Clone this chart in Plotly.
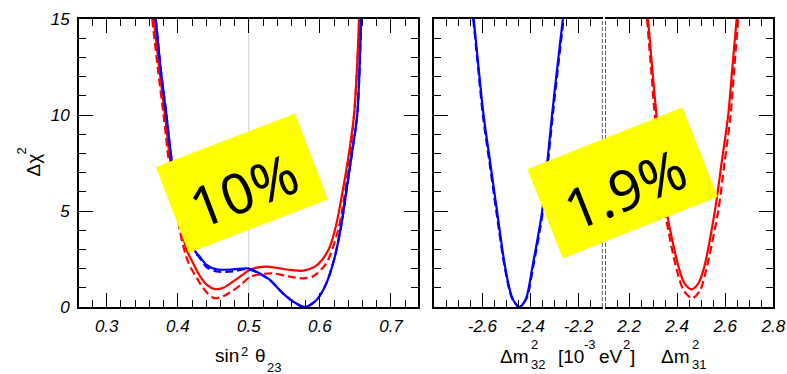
import numpy as np
import plotly.graph_objects as go

W, H = 787, 374

# ---- sin^2(theta23) scan (left panel) ----
th_red_solid_x = [0.3660, 0.3740, 0.3820, 0.3890, 0.3950, 0.4010, 0.4067, 0.4123, 0.4193, 0.4310,
                  0.4410, 0.4520, 0.4650, 0.4780, 0.4900, 0.5010, 0.5130, 0.5250, 0.5400, 0.5580,
                  0.5765, 0.5930, 0.6040, 0.6140, 0.6230, 0.6306, 0.6400, 0.6480, 0.6520, 0.6550]
th_red_solid_y = [15.0, 12.4, 10.0, 7.7, 6.1, 4.9, 3.84, 2.97, 2.45, 1.62,
                  1.15, 0.93, 1.02, 1.33, 1.65, 1.93, 2.06, 2.10, 2.03, 1.93,
                  1.89, 2.10, 2.50, 3.14, 4.30, 5.74, 7.80, 10.0, 12.3, 15.0]

th_red_dash_x = [0.3640, 0.3720, 0.3800, 0.3870, 0.3930, 0.3990, 0.4029, 0.4075, 0.4150, 0.4310,
                 0.4410, 0.4520, 0.4650, 0.4780, 0.4900, 0.5010, 0.5150, 0.5340, 0.5550, 0.5766,
                 0.5905, 0.6090, 0.6257, 0.6320, 0.6410, 0.6480, 0.6525, 0.6560]
th_red_dash_y = [15.0, 12.4, 10.0, 7.7, 6.1, 4.9, 4.0, 3.2, 2.3, 1.25,
                 0.75, 0.46, 0.58, 0.86, 1.20, 1.55, 1.70, 1.75, 1.60, 1.49,
                 1.60, 2.28, 4.00, 5.2, 7.5, 10.0, 12.5, 15.0]

th_blue_x = [0.3690, 0.3760, 0.3840, 0.3912, 0.3990, 0.4070, 0.4150, 0.4264, 0.4310, 0.4404,
             0.4545, 0.4780, 0.4990, 0.5155, 0.5296, 0.5480, 0.5624, 0.5790, 0.5953, 0.6090,
             0.6210, 0.6305, 0.6375, 0.6450, 0.6525, 0.6580]
th_blue_solid_y = [15.0, 12.4, 10.0, 7.7, 6.0, 4.6, 3.6, 2.8, 2.62, 2.19,
                   1.96, 1.96, 2.01, 1.75, 1.41, 0.71, 0.28, 0.0, 0.36, 1.23,
                   2.62, 4.36, 6.1, 8.0, 10.0, 15.0]
th_blue_dash_y = [15.0, 12.4, 10.0, 7.7, 6.0, 4.6, 3.6, 2.75, 2.55, 2.08,
                  1.85, 1.86, 1.97, 1.73, 1.40, 0.71, 0.28, 0.0, 0.36, 1.23,
                  2.62, 4.36, 6.1, 8.0, 10.0, 15.0]

# ---- Delta m^2_32 scan (inverted ordering) ----
m32_solid_x = [-2.636, -2.616, -2.595, -2.567, -2.539, -2.504, -2.475, -2.446, -2.418, -2.393,
               -2.351, -2.330, -2.310, -2.288, -2.265]
m32_dash_x = [-2.638, -2.618, -2.598, -2.570, -2.542, -2.506, -2.476, -2.446, -2.416, -2.390,
              -2.348, -2.327, -2.307, -2.285, -2.262]
m32_y = [15.0, 12.5, 10.0, 7.5, 5.0, 2.0, 0.45, 0.0, 0.45, 2.0, 5.0, 7.5, 10.0, 12.5, 15.0]

# ---- Delta m^2_31 scan (normal ordering) ----
m31_solid_x = [2.279, 2.296, 2.314, 2.334, 2.356, 2.408, 2.432, 2.460, 2.487, 2.511,
               2.557, 2.585, 2.6125, 2.630, 2.6475]
m31_solid_y = [15.0, 12.5, 10.0, 7.5, 5.0, 2.0, 1.2, 0.92, 1.2, 2.0, 5.0, 7.5, 10.0, 12.5, 15.0]
m31_dash_x = [2.275, 2.291, 2.307, 2.328, 2.349, 2.397, 2.428, 2.463, 2.495, 2.522,
              2.571, 2.597, 2.6225, 2.638, 2.654]
m31_dash_y = [15.0, 12.5, 10.0, 7.5, 5.0, 2.0, 0.85, 0.45, 0.85, 2.0, 5.0, 7.5, 10.0, 12.5, 15.0]

# tick labels
th_ticks = [0.3, 0.4, 0.5, 0.6, 0.7]
m32_ticks = [-2.6, -2.4, -2.2]
m31_ticks = [2.2, 2.4, 2.6, 2.8]
chi_ticks = [0, 5, 10, 15]

RED, BLUE = "#ff0000", "#0000ff"
DASH = "8px,4px"
LW = 2.2


def px(x, y):
    return x / W, 1 - y / H


fig = go.Figure()


def curve(x, y, color, dash, xa, ya):
    fig.add_trace(go.Scatter(x=x, y=y, mode="lines", xaxis=xa, yaxis=ya,
                             line=dict(color=color, width=LW, dash=dash, shape="spline", smoothing=0.8),
                             showlegend=False, hoverinfo="skip"))


curve(th_red_dash_x, th_red_dash_y, RED, DASH, "x", "y")
curve(th_red_solid_x, th_red_solid_y, RED, "solid", "x", "y")
curve(th_blue_x, th_blue_dash_y, BLUE, DASH, "x", "y")
curve(th_blue_x, th_blue_solid_y, BLUE, "solid", "x", "y")

curve(m32_dash_x, m32_y, BLUE, DASH, "x2", "y2")
curve(m32_solid_x, m32_y, BLUE, "solid", "x2", "y2")

curve(m31_dash_x, m31_dash_y, RED, DASH, "x3", "y3")
curve(m31_solid_x, m31_solid_y, RED, "solid", "x3", "y3")

# geometry of the frames (pixels)
Y_TOP, Y_BOT = 19, 307
ydom = [1 - Y_BOT / H, 1 - Y_TOP / H]

tickfont = dict(family="Liberation Sans", size=17, color="black", style="italic")

common = dict(showline=True, linewidth=2, linecolor="black", ticks="inside", ticklen=14,
              tickwidth=1.3, tickcolor="black", showgrid=False, zeroline=False,
              tickfont=tickfont, automargin=False)


def minor(d):
    return dict(dtick=d, ticks="inside", ticklen=7, tickwidth=1.3, tickcolor="black", showgrid=False)


fig.update_layout(
    width=W, height=H, margin=dict(l=0, r=0, t=0, b=0, pad=0), autosize=False,
    paper_bgcolor="white", plot_bgcolor="white", showlegend=False,
    xaxis=dict(domain=[79 / W, 418 / W], range=[0.261, 0.738], anchor="y",
               tickvals=th_ticks, ticktext=[f"{v:.1f}" for v in th_ticks],
               mirror="ticks", minor=dict(tick0=0, **minor(0.02)), ticklabelstandoff=3, **common),
    yaxis=dict(domain=ydom, range=[0, 15], anchor="x", tickvals=chi_ticks,
               ticktext=[str(v) for v in chi_ticks], mirror="ticks", minor=minor(1),
               ticklabelstandoff=4, **common),
    xaxis2=dict(domain=[434.3 / W, 602.5 / W], range=[-2.8, -2.1], anchor="y2",
                tickvals=m32_ticks, ticktext=[f"{v:.1f}" for v in m32_ticks],
                mirror="ticks", minor=dict(tick0=0, **minor(0.05)), ticklabelstandoff=3, **common),
    yaxis2=dict(domain=ydom, range=[0, 15], anchor="x2", tickvals=chi_ticks,
                showticklabels=False, minor=minor(1), **common),
    xaxis3=dict(domain=[605 / W, 773.3 / W], range=[2.1, 2.8], anchor="y3",
                tickvals=m31_ticks, ticktext=[f"{v:.1f}" for v in m31_ticks],
                mirror="ticks", minor=dict(tick0=0, **minor(0.05)), ticklabelstandoff=3, **common),
    yaxis3=dict(domain=ydom, range=[0, 15], anchor="x3", side="right", tickvals=chi_ticks,
                showticklabels=False, minor=minor(1), **common),
)

shapes = []
# maximal-mixing guide
shapes.append(dict(type="line", xref="x", yref="y", x0=0.5, x1=0.5, y0=0, y1=15,
                   line=dict(color="#d0d0d0", width=1), layer="below"))
# broken-axis markers between the two mass-splitting ranges
shapes.append(dict(type="line", xref="x2", yref="y2", x0=-2.1, x1=-2.1, y0=0, y1=15,
                   line=dict(color="black", width=1.3, dash="4px,2px")))
shapes.append(dict(type="line", xref="x3", yref="y3", x0=2.1, x1=2.1, y0=0, y1=15,
                   line=dict(color="black", width=1.3, dash="4px,2px")))


def rotated_box(cx, cy, w, h, ang):
    a = np.deg2rad(ang)
    c, s = np.cos(a), np.sin(a)
    pts = []
    for dx, dy in [(-w / 2, -h / 2), (w / 2, -h / 2), (w / 2, h / 2), (-w / 2, h / 2)]:
        pts.append(px(cx + dx * c + dy * s, cy - dx * s + dy * c))
    return "M " + " L ".join(f"{x:.5f},{y:.5f}" for x, y in pts) + " Z"


labels = [("10%", 241.9, 183.2, 149.2, 92.0, 21.0, 243.5, 189.0),
          ("1.9%", 622.6, 183.0, 166.8, 95.9, 21.7, 624.5, 188.0)]
annotations = []
for text, cx, cy, bw, bh, ang, tx, ty in labels:
    shapes.append(dict(type="path", xref="paper", yref="paper", path=rotated_box(cx, cy, bw, bh, ang),
                       fillcolor="#ffff00", line=dict(width=0), layer="above"))
    x, y = px(tx, ty)
    annotations.append(dict(x=x, y=y, xref="paper", yref="paper", text=text, showarrow=False,
                            textangle=-ang, xanchor="center", yanchor="middle",
                            font=dict(family="Noto Sans", size=56, color="black")))

TF = "Liberation Sans"


def piece(text, x, y, size, anchor="left", angle=0):
    xp, yp = px(x, y)
    annotations.append(dict(x=xp, y=yp, xref="paper", yref="paper", text=text, showarrow=False,
                            xanchor=anchor, yanchor="middle", textangle=angle, borderpad=0,
                            font=dict(family=TF, size=size, color="black")))


# x title, left panel: sin^2 theta_23
piece("sin", 214.0, 355.0, 19)
piece("2", 239.5, 351.0, 13)
piece("θ", 253.5, 355.0, 19)
piece("23", 265.5, 367.0, 13)

# x title, right panel: dm^2_32 [10^-3 eV^2] dm^2_31
piece("Δm", 530.0, 356.0, 19, anchor="right")
piece("2", 529.5, 344.0, 13)
piece("32", 529.5, 364.0, 13)
piece("[10", 557.0, 356.0, 19)
piece("-3", 582.5, 344.0, 13)
piece("eV", 598.0, 356.0, 19)
piece("2", 621.5, 344.0, 13)
piece("]", 629.0, 356.0, 19)
piece("Δm", 691.0, 356.0, 19, anchor="right")
piece("2", 690.5, 344.0, 13)
piece("31", 690.5, 364.0, 13)

# y title
piece("Δχ", 32.5, 165.0, 19, anchor="center", angle=-90)
piece("2", 21.0, 151.5, 13, anchor="center", angle=-90)

fig.update_layout(shapes=shapes, annotations=annotations)
fig.write_html("out.html")
